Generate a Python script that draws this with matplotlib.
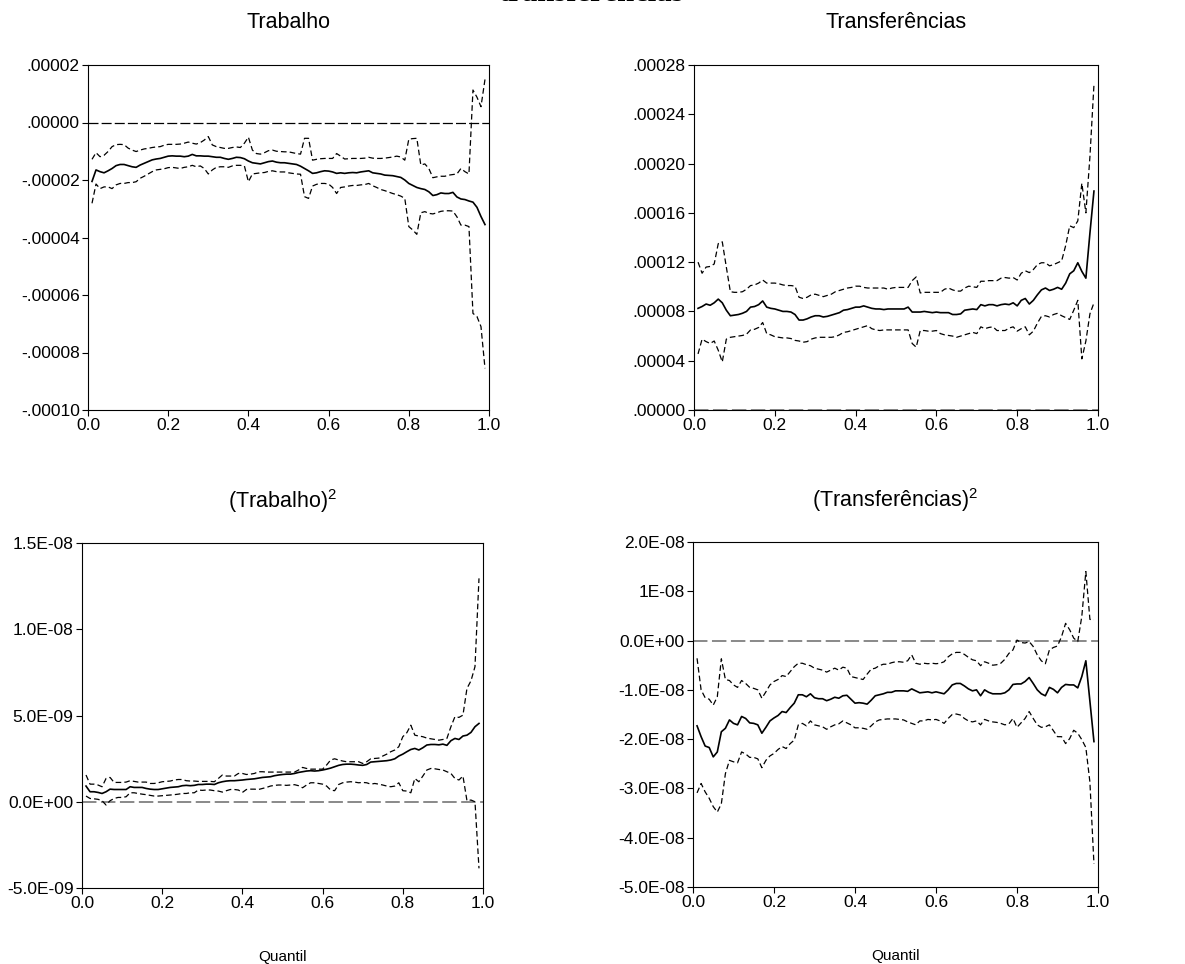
import numpy as np
import matplotlib
matplotlib.use('Agg')
import matplotlib.pyplot as plt

plt.rcParams['font.family'] = ['Liberation Sans', 'DejaVu Sans']
plt.rcParams['mathtext.default'] = 'regular'

# quantiles 0.01 .. 0.99
q = np.round(np.arange(1, 100) / 100, 2)

# Trabalho (x 1e-5)
trab_med = [-2.05, -1.65, -1.71, -1.75, -1.68, -1.60, -1.50, -1.46, -1.46, -1.50,
            -1.54, -1.56, -1.48, -1.42, -1.36, -1.30, -1.27, -1.25, -1.21, -1.17,
            -1.16, -1.17, -1.17, -1.19, -1.17, -1.11, -1.16, -1.16, -1.17, -1.17,
            -1.19, -1.21, -1.21, -1.25, -1.28, -1.25, -1.21, -1.22, -1.26, -1.34,
            -1.40, -1.42, -1.44, -1.40, -1.36, -1.34, -1.38, -1.40, -1.40, -1.42,
            -1.44, -1.46, -1.52, -1.60, -1.68, -1.77, -1.75, -1.71, -1.68, -1.69,
            -1.72, -1.77, -1.75, -1.77, -1.75, -1.74, -1.75, -1.72, -1.70, -1.68,
            -1.75, -1.77, -1.79, -1.83, -1.84, -1.85, -1.88, -1.91, -2.00, -2.12,
            -2.19, -2.26, -2.30, -2.33, -2.41, -2.54, -2.51, -2.45, -2.47, -2.47,
            -2.43, -2.59, -2.66, -2.68, -2.73, -2.77, -2.95, -3.27, -3.55]
trab_up = [-1.28, -1.05, -1.19, -1.14, -1.01, -0.84, -0.77, -0.76, -0.77, -0.89,
           -0.96, -1.01, -0.96, -0.92, -0.90, -0.87, -0.85, -0.84, -0.79, -0.76,
           -0.76, -0.76, -0.75, -0.72, -0.68, -0.72, -0.75, -0.70, -0.61, -0.49,
           -0.78, -0.84, -0.87, -0.90, -0.90, -0.87, -0.85, -0.87, -0.72, -0.51,
           -0.96, -1.08, -1.10, -1.05, -0.98, -0.96, -1.00, -1.01, -1.02, -1.02,
           -1.05, -1.08, -1.10, -0.55, -0.55, -1.31, -1.28, -1.26, -1.25, -1.25,
           -1.25, -1.08, -1.17, -1.27, -1.26, -1.25, -1.25, -1.25, -1.24, -1.21,
           -1.24, -1.25, -1.25, -1.24, -1.22, -1.20, -1.17, -1.20, -1.31, -0.58,
           -0.56, -0.55, -1.48, -1.44, -1.60, -1.92, -1.89, -1.87, -1.87, -1.83,
           -1.81, -1.79, -1.60, -1.71, -1.79, 1.13, 0.88, 0.55, 1.50]
trab_lo = [-2.81, -2.14, -2.30, -2.24, -2.24, -2.30, -2.17, -2.12, -2.12, -2.09,
           -2.09, -2.06, -1.94, -1.87, -1.79, -1.71, -1.65, -1.63, -1.61, -1.57,
           -1.56, -1.58, -1.60, -1.56, -1.54, -1.49, -1.54, -1.51, -1.60, -1.79,
           -1.65, -1.56, -1.54, -1.54, -1.56, -1.51, -1.49, -1.49, -1.51, -2.06,
           -1.79, -1.77, -1.75, -1.74, -1.70, -1.68, -1.71, -1.72, -1.72, -1.75,
           -1.77, -1.79, -1.80, -2.58, -2.64, -2.21, -2.15, -2.12, -2.12, -2.14,
           -2.26, -2.47, -2.26, -2.24, -2.21, -2.19, -2.19, -2.17, -2.16, -2.12,
           -2.20, -2.26, -2.33, -2.37, -2.42, -2.47, -2.51, -2.56, -2.64, -3.62,
           -3.74, -3.89, -3.14, -3.10, -3.16, -3.18, -3.14, -3.09, -3.07, -3.07,
           -3.08, -3.28, -3.57, -3.57, -3.62, -6.64, -6.75, -7.10, -8.55]

# Transferencias (x 1e-5)
transf_med = [8.25, 8.40, 8.60, 8.50, 8.70, 9.00, 8.70, 8.10, 7.65, 7.70,
              7.75, 7.85, 8.00, 8.35, 8.40, 8.55, 8.85, 8.35, 8.25, 8.20,
              8.10, 8.00, 8.00, 7.95, 7.75, 7.30, 7.30, 7.40, 7.55, 7.65,
              7.65, 7.55, 7.60, 7.70, 7.80, 7.90, 8.10, 8.15, 8.25, 8.35,
              8.35, 8.45, 8.35, 8.25, 8.20, 8.20, 8.15, 8.20, 8.20, 8.20,
              8.20, 8.20, 8.35, 7.95, 7.95, 7.95, 8.00, 7.95, 7.90, 7.95,
              7.90, 7.90, 7.90, 7.75, 7.75, 7.80, 8.10, 8.15, 8.20, 8.15,
              8.55, 8.45, 8.55, 8.55, 8.45, 8.55, 8.60, 8.55, 8.70, 8.45,
              8.90, 9.05, 8.60, 8.90, 9.35, 9.75, 9.90, 9.70, 9.80, 9.95,
              9.80, 10.30, 11.05, 11.30, 11.95, 11.25, 10.70, 14.35, 17.77]
transf_up = [12.00, 11.10, 11.60, 11.65, 11.85, 13.50, 13.65, 11.60, 9.60, 9.55,
             9.55, 9.60, 9.80, 10.10, 10.15, 10.30, 10.55, 10.30, 10.30, 10.30,
             10.25, 10.15, 10.10, 10.10, 10.05, 9.15, 9.05, 9.15, 9.35, 9.40,
             9.30, 9.20, 9.30, 9.40, 9.60, 9.70, 9.80, 9.90, 9.95, 10.05,
             10.05, 9.95, 9.90, 9.90, 9.90, 9.90, 9.90, 9.80, 9.90, 9.95,
             9.95, 9.95, 9.95, 10.50, 10.80, 9.50, 9.55, 9.55, 9.55, 9.55,
             9.55, 9.80, 9.90, 9.75, 9.65, 9.65, 9.90, 10.05, 10.00, 9.95,
             10.45, 10.45, 10.50, 10.50, 10.50, 10.70, 10.75, 10.70, 10.75, 10.55,
             11.10, 11.30, 11.15, 11.40, 11.80, 11.95, 11.95, 11.70, 11.80, 11.95,
             12.10, 13.35, 14.95, 14.80, 15.35, 18.40, 16.00, 20.55, 26.40]
transf_lo = [4.55, 5.75, 5.55, 5.40, 5.60, 4.85, 3.90, 5.75, 5.90, 5.95,
             6.00, 6.05, 6.15, 6.50, 6.55, 6.70, 7.10, 6.20, 6.10, 5.95,
             5.90, 5.85, 5.85, 5.80, 5.65, 5.60, 5.50, 5.55, 5.75, 5.85,
             5.90, 5.90, 5.90, 5.90, 5.95, 6.10, 6.30, 6.35, 6.45, 6.55,
             6.65, 6.75, 6.85, 6.60, 6.50, 6.45, 6.50, 6.50, 6.50, 6.50,
             6.50, 6.50, 6.50, 5.40, 5.10, 6.45, 6.45, 6.40, 6.40, 6.45,
             6.20, 6.10, 6.05, 6.00, 5.90, 6.00, 6.10, 6.20, 6.30, 6.20,
             6.75, 6.60, 6.70, 6.75, 6.45, 6.45, 6.45, 6.65, 6.75, 6.40,
             6.60, 6.75, 6.10, 6.40, 7.05, 7.60, 7.65, 7.55, 7.75, 7.85,
             7.65, 7.50, 7.35, 8.10, 8.90, 4.15, 5.60, 7.80, 8.70]

# (Trabalho)^2 (x 1e-9)
trab2_med = [0.91, 0.58, 0.58, 0.54, 0.48, 0.58, 0.73, 0.71, 0.71, 0.71,
             0.71, 0.87, 0.83, 0.83, 0.83, 0.77, 0.73, 0.71, 0.71, 0.75,
             0.79, 0.83, 0.85, 0.87, 0.93, 0.95, 0.93, 0.95, 1.00, 1.00,
             1.02, 1.02, 1.00, 1.10, 1.16, 1.20, 1.22, 1.22, 1.24, 1.26,
             1.29, 1.31, 1.33, 1.37, 1.41, 1.43, 1.45, 1.51, 1.55, 1.58,
             1.60, 1.60, 1.64, 1.70, 1.74, 1.78, 1.80, 1.78, 1.80, 1.84,
             1.89, 1.95, 2.03, 2.11, 2.16, 2.18, 2.18, 2.16, 2.13, 2.11,
             2.16, 2.30, 2.32, 2.34, 2.36, 2.38, 2.42, 2.49, 2.65, 2.76,
             2.90, 3.03, 3.09, 3.00, 3.13, 3.29, 3.32, 3.32, 3.30, 3.34,
             3.27, 3.54, 3.67, 3.61, 3.81, 3.86, 4.02, 4.35, 4.54]
trab2_up = [1.55, 1.02, 1.02, 0.97, 0.87, 1.35, 1.41, 1.12, 1.12, 1.12,
            1.14, 1.22, 1.18, 1.14, 1.14, 1.14, 1.06, 1.06, 1.10, 1.16,
            1.18, 1.20, 1.26, 1.29, 1.29, 1.22, 1.20, 1.20, 1.18, 1.18,
            1.18, 1.18, 1.16, 1.35, 1.55, 1.49, 1.49, 1.49, 1.64, 1.64,
            1.58, 1.60, 1.64, 1.74, 1.74, 1.72, 1.72, 1.72, 1.72, 1.72,
            1.72, 1.72, 1.72, 1.84, 1.99, 1.93, 1.89, 1.89, 1.89, 1.89,
            2.13, 2.42, 2.49, 2.42, 2.36, 2.32, 2.32, 2.32, 2.32, 2.22,
            2.32, 2.49, 2.51, 2.53, 2.65, 2.76, 2.90, 3.00, 3.19, 3.77,
            4.00, 4.44, 3.86, 3.81, 3.77, 3.69, 3.65, 3.61, 3.57, 3.61,
            3.67, 4.35, 4.93, 4.89, 5.02, 6.57, 7.01, 7.83, 12.95]
trab2_lo = [0.33, 0.19, 0.17, 0.14, 0.06, -0.19, 0.06, 0.19, 0.25, 0.25,
            0.29, 0.52, 0.52, 0.48, 0.44, 0.41, 0.37, 0.33, 0.33, 0.35,
            0.37, 0.39, 0.41, 0.44, 0.48, 0.48, 0.52, 0.52, 0.68, 0.66,
            0.68, 0.68, 0.64, 0.62, 0.56, 0.64, 0.71, 0.71, 0.68, 0.54,
            0.71, 0.73, 0.73, 0.71, 0.77, 0.83, 0.91, 0.95, 0.97, 0.97,
            0.95, 0.97, 0.99, 0.93, 0.81, 0.97, 1.10, 1.10, 1.06, 1.02,
            0.91, 0.68, 0.64, 1.00, 1.10, 1.14, 1.16, 1.14, 1.10, 1.12,
            1.10, 1.02, 1.06, 1.02, 0.97, 0.91, 0.87, 0.91, 1.10, 0.64,
            0.62, 0.52, 1.35, 1.16, 1.49, 1.84, 1.93, 1.91, 1.87, 1.84,
            1.74, 1.64, 1.35, 1.26, 1.49, 0.06, 0.10, 0.00, -3.86]

# (Transferencias)^2 (x 1e-8)
transf2_med = [-1.73, -1.95, -2.14, -2.17, -2.36, -2.26, -1.85, -1.78, -1.61, -1.68,
               -1.71, -1.54, -1.58, -1.67, -1.68, -1.71, -1.88, -1.76, -1.63, -1.57,
               -1.52, -1.44, -1.46, -1.36, -1.27, -1.10, -1.10, -1.14, -1.08, -1.16,
               -1.18, -1.18, -1.22, -1.19, -1.15, -1.17, -1.12, -1.11, -1.19, -1.27,
               -1.26, -1.27, -1.29, -1.21, -1.12, -1.10, -1.08, -1.05, -1.05, -1.02,
               -1.02, -1.02, -1.03, -0.98, -1.02, -1.06, -1.05, -1.04, -1.06, -1.04,
               -1.06, -1.08, -1.00, -0.90, -0.87, -0.87, -0.92, -0.98, -1.02, -1.00,
               -1.12, -1.00, -1.05, -1.08, -1.08, -1.08, -1.06, -1.00, -0.89, -0.88,
               -0.88, -0.83, -0.75, -0.87, -1.00, -1.08, -1.12, -0.95, -0.99, -1.06,
               -0.95, -0.89, -0.90, -0.90, -0.96, -0.73, -0.41, -1.23, -2.05]
transf2_up = [-0.36, -1.00, -1.16, -1.19, -1.31, -1.14, -0.37, -0.79, -0.81, -0.90,
              -0.95, -0.81, -0.87, -0.95, -0.97, -1.00, -1.17, -1.04, -0.90, -0.83,
              -0.79, -0.71, -0.73, -0.63, -0.53, -0.46, -0.46, -0.49, -0.51, -0.56,
              -0.58, -0.60, -0.64, -0.60, -0.56, -0.60, -0.54, -0.56, -0.73, -0.75,
              -0.77, -0.79, -0.68, -0.58, -0.56, -0.51, -0.48, -0.48, -0.45, -0.43,
              -0.43, -0.44, -0.41, -0.29, -0.46, -0.48, -0.46, -0.47, -0.46, -0.47,
              -0.46, -0.43, -0.33, -0.27, -0.24, -0.24, -0.28, -0.34, -0.39, -0.41,
              -0.51, -0.43, -0.46, -0.50, -0.49, -0.46, -0.38, -0.26, -0.19, 0.01,
              -0.04, -0.05, -0.02, -0.12, -0.29, -0.41, -0.47, -0.19, -0.14, -0.11,
              0.08, 0.35, 0.22, 0.05, -0.02, 0.49, 1.40, 0.43, 0.42]
transf2_lo = [-3.09, -2.90, -3.07, -3.20, -3.37, -3.48, -3.31, -2.70, -2.43, -2.46,
              -2.48, -2.26, -2.30, -2.37, -2.37, -2.40, -2.58, -2.43, -2.34, -2.29,
              -2.21, -2.15, -2.19, -2.09, -2.02, -1.71, -1.68, -1.73, -1.63, -1.71,
              -1.73, -1.75, -1.80, -1.75, -1.71, -1.69, -1.63, -1.67, -1.71, -1.77,
              -1.77, -1.78, -1.80, -1.73, -1.65, -1.61, -1.60, -1.59, -1.59, -1.59,
              -1.60, -1.61, -1.65, -1.68, -1.71, -1.63, -1.63, -1.60, -1.61, -1.60,
              -1.63, -1.68, -1.58, -1.50, -1.49, -1.51, -1.58, -1.63, -1.65, -1.63,
              -1.71, -1.60, -1.63, -1.65, -1.66, -1.68, -1.71, -1.69, -1.58, -1.76,
              -1.67, -1.58, -1.44, -1.58, -1.71, -1.76, -1.75, -1.71, -1.83, -1.95,
              -1.95, -2.09, -1.99, -1.82, -1.88, -2.01, -2.17, -2.87, -4.53]

# y tick positions (in the scaled units above) and their labels
trab_ticks = [2, 0, -2, -4, -6, -8, -10]
trab_labels = ['.00002', '.00000', '-.00002', '-.00004', '-.00006', '-.00008', '-.00010']
transf_ticks = [0, 4, 8, 12, 16, 20, 24, 28]
transf_labels = ['.00000', '.00004', '.00008', '.00012', '.00016', '.00020', '.00024', '.00028']
trab2_ticks = [-5, 0, 5, 10, 15]
trab2_labels = ['-5.0E-09', '0.0E+00', '5.0E-09', '1.0E-08', '1.5E-08']
transf2_ticks = [-5, -4, -3, -2, -1, 0, 1, 2]
transf2_labels = ['-5.0E-08', '-4.0E-08', '-3.0E-08', '-2.0E-08', '-1.0E-08', '0.0E+00', '1E-08', '2.0E-08']
x_ticks = [0.0, 0.2, 0.4, 0.6, 0.8, 1.0]
x_labels = ['0.0', '0.2', '0.4', '0.6', '0.8', '1.0']

W, H = 1185, 964
fig = plt.figure(figsize=(W / 100, H / 100), dpi=100)


def box(l, t, r, b):
    return [l / W, 1 - b / H, (r - l) / W, (b - t) / H]


panels = [
    (box(88, 65, 489, 410), 'Trabalho', trab_med, trab_up, trab_lo,
     trab_ticks, trab_labels, (-10, 2), 'k', False),
    (box(694, 65, 1098, 410), 'Transferências', transf_med, transf_up, transf_lo,
     transf_ticks, transf_labels, (0, 28), '#808080', False),
    (box(82, 543, 483, 888), '(Trabalho)$^2$', trab2_med, trab2_up, trab2_lo,
     trab2_ticks, trab2_labels, (-5, 15), '#808080', True),
    (box(693, 542, 1098, 887), '(Transferências)$^2$', transf2_med, transf2_up, transf2_lo,
     transf2_ticks, transf2_labels, (-5, 2), '#808080', True),
]

for rect, title, med, up, lo, yt, yl, ylim, zc, bottom in panels:
    ax = fig.add_axes(rect)
    ax.axhline(0, color=zc, lw=1.3 if zc != 'k' else 0.9, linestyle=(0, (8, 2.5)), zorder=1)
    ax.plot(q, up, color='k', lw=0.9, linestyle=(0, (4.5, 2.5)))
    ax.plot(q, lo, color='k', lw=0.9, linestyle=(0, (4.5, 2.5)))
    ax.plot(q, med, color='k', lw=1.2)
    ax.set_xlim(0, 1)
    ax.set_ylim(*ylim)
    ax.set_xticks(x_ticks)
    ax.set_xticklabels(x_labels)
    ax.set_yticks(yt)
    ax.set_yticklabels(yl)
    ax.tick_params(direction='out', length=4, width=0.8, labelsize=12.5, pad=2,
                   top=False, right=False)
    for s in ax.spines.values():
        s.set_linewidth(0.8)
    x0, y0, w, h = rect
    fig.text(x0 + w / 2, y0 + h + 42 / H, title, ha='center', va='center', fontsize=15.5)
    if bottom:
        ax.set_xlabel('Quantil', fontsize=11, labelpad=28)

# cut-off main title at the very top
fig.text(591 / W, 1 - 1 / H, 'transferências', ha='center', va='baseline',
         family=['Liberation Serif', 'DejaVu Serif'], fontweight='bold', fontsize=22)

fig.savefig('out.png', dpi=100)
